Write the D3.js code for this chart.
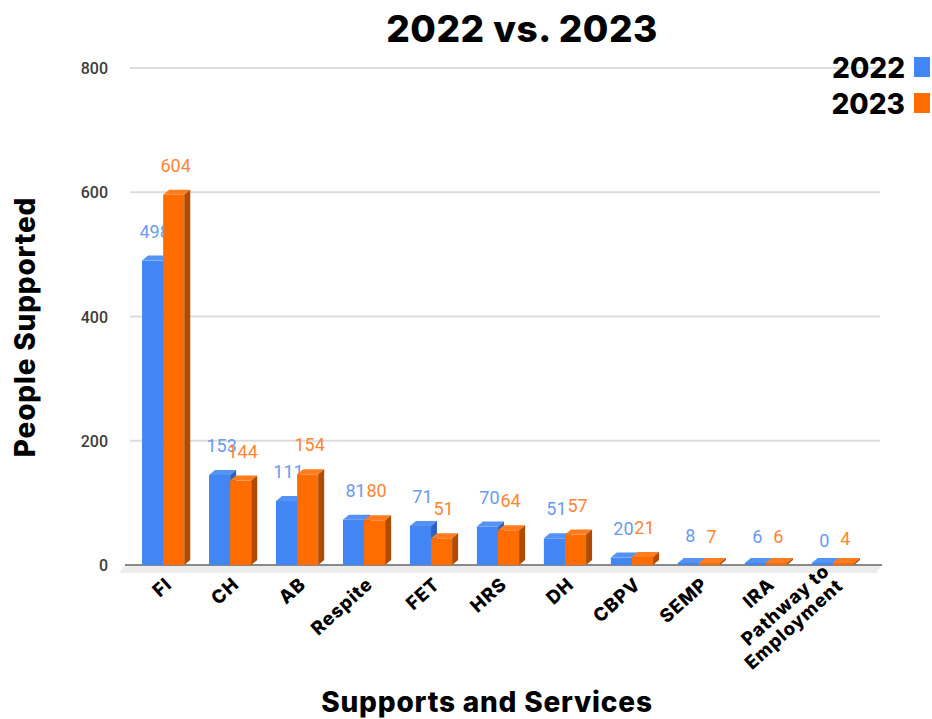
<!DOCTYPE html>
<meta charset="utf-8">
<style>
    body { margin: 0; background: #fff; }
    text { font-family: Roboto, "Noto Sans", sans-serif; }
    .bold { font-family: Inter, "DejaVu Sans", sans-serif; font-weight: 800; }
</style>
<body>
<div id="chart"></div>
<script src="https://d3js.org/d3.v7.min.js"></script>
<script>
    // chart data
    var categories = ['FI', 'CH', 'AB', 'Respite', 'FET', 'HRS', 'DH', 'CBPV', 'SEMP', 'IRA', 'Pathway to\nEmployment']
    var series = ['2022', '2023']
    var values2022 = [498, 153, 111, 81, 71, 70, 51, 20, 8, 6, 0]
    var values2023 = [604, 144, 154, 80, 51, 64, 57, 21, 7, 6, 4]
    var yTicks = [0, 200, 400, 600, 800]

    var width = 932
    var height = 719
    var depth = 6, rise = 5   // fake 3d offsets

    var colors = {
        '2022': { front: '#4285f4', top: '#5592f5', side: '#2d62c4', label: '#6a9bee' },
        '2023': { front: '#ff6d01', top: '#ff7d1f', side: '#b04b00', label: '#ff8533' }
    }

    var svg = d3.select('#chart')
        .append('svg')
        .attr('width', width)
        .attr('height', height)

    var x = d3.scaleBand()
        .domain(categories)
        .range([130, 866])
        .paddingInner(0.37)
        .paddingOuter(0.18)
    var x1 = d3.scaleBand()
        .domain(series)
        .range([0, x.bandwidth()])
    var y = d3.scaleLinear()
        .domain([0, 800])
        .range([565, 68])

    // gridlines
    svg.append('g')
        .selectAll('line')
        .data(yTicks.filter(function (d) { return d > 0 }))
        .enter().append('line')
        .attr('x1', 130).attr('x2', 880)
        .attr('y1', function (d) { return y(d) })
        .attr('y2', function (d) { return y(d) })
        .style('stroke', '#dcdcdc')
        .style('stroke-width', 2)

    // y tick labels
    svg.append('g')
        .selectAll('text')
        .data(yTicks)
        .enter().append('text')
        .attr('x', 108)
        .attr('y', function (d) { return y(d) + 6 })
        .attr('text-anchor', 'end')
        .style('font-size', '16px')
        .style('font-weight', 500)
        .style('fill', '#3c3c3c')
        .text(function (d) { return d })

    // floor shadow + base line
    svg.append('path')
        .attr('d', 'M125,' + y(0) + 'L882,' + y(0) + 'L876,' + (y(0) + 8) + 'L119,' + (y(0) + 8) + 'Z')
        .style('fill', '#ececec')
    svg.append('line')
        .attr('x1', 125).attr('x2', 882)
        .attr('y1', y(0)).attr('y2', y(0))
        .style('stroke', '#666')
        .style('stroke-width', 1.5)

    var rows = categories.map(function (c, i) {
        return { cat: c, vals: [{ s: '2022', v: values2022[i] }, { s: '2023', v: values2023[i] }] }
    })

    var w = x1.bandwidth()
    var groups = svg.append('g')
        .selectAll('g')
        .data(rows)
        .enter().append('g')
        .attr('transform', function (d) { return 'translate(' + x(d.cat) + ',0)' })

    var bars = groups.selectAll('g.bar')
        .data(function (d) { return d.vals })
        .enter().append('g')
        .attr('class', 'bar')

    function topY(d) { return Math.min(y(d.v) + rise, y(0) - 2) }

    bars.append('rect')
        .attr('x', function (d) { return x1(d.s) })
        .attr('y', topY)
        .attr('width', w)
        .attr('height', function (d) { return y(0) - topY(d) })
        .style('fill', function (d) { return colors[d.s].front })
    bars.append('path')
        .attr('d', function (d) {
            var x0 = x1(d.s), t = topY(d)
            return 'M' + x0 + ',' + t + 'L' + (x0 + depth) + ',' + (t - rise) +
                'L' + (x0 + w + depth) + ',' + (t - rise) + 'L' + (x0 + w) + ',' + t + 'Z'
        })
        .style('fill', function (d) { return colors[d.s].top })
    bars.append('path')
        .attr('d', function (d) {
            var x0 = x1(d.s) + w, t = topY(d), b = y(0)
            return 'M' + x0 + ',' + t + 'L' + (x0 + depth) + ',' + (t - rise) +
                'L' + (x0 + depth) + ',' + (b - rise) + 'L' + x0 + ',' + b + 'Z'
        })
        .style('fill', function (d) { return colors[d.s].side })

    // data labels
    bars.append('text')
        .attr('x', function (d) { return x1(d.s) + w / 2 + 2 })
        .attr('y', function (d) { return y(d.v) - 18 })
        .attr('text-anchor', 'middle')
        .style('font-size', '18px')
        .style('fill', function (d) { return colors[d.s].label })
        .text(function (d) { return d.v })

    // x category labels, rotated
    var xl = svg.append('g')
        .selectAll('text')
        .data(categories)
        .enter().append('text')
        .attr('class', 'bold')
        .attr('transform', function (d) {
            return 'translate(' + (x(d) + x.bandwidth() / 2 + 10) + ',' + (y(0) + 21) + ') rotate(-42)'
        })
        .attr('text-anchor', 'end')
        .style('font-size', '18.5px')
        .style('letter-spacing', '0.9px')
    xl.selectAll('tspan')
        .data(function (d) {
            var parts = d.split('\n')
            return parts.map(function (p, i) { return { t: p, dy: i === 0 ? -(parts.length - 1) * 18 : 20 } })
        })
        .enter().append('tspan')
        .attr('x', 0)
        .attr('dy', function (d) { return d.dy })
        .text(function (d) { return d.t })

    // titles
    svg.append('text')
        .attr('class', 'bold')
        .attr('x', 522).attr('y', 42)
        .attr('text-anchor', 'middle')
        .style('font-size', '37px')
        .style('letter-spacing', '0.5px')
        .text('2022 vs. 2023')
    svg.append('text')
        .attr('class', 'bold')
        .attr('x', 487).attr('y', 712)
        .attr('text-anchor', 'middle')
        .style('font-size', '28px')
        .style('letter-spacing', '0.8px')
        .text('Supports and Services')
    svg.append('text')
        .attr('class', 'bold')
        .attr('transform', 'translate(35,327) rotate(-90)')
        .attr('text-anchor', 'middle')
        .style('font-size', '28px')
        .style('letter-spacing', '0.8px')
        .text('People Supported')

    // legend
    var leg = svg.append('g')
        .selectAll('g')
        .data(series)
        .enter().append('g')
        .attr('transform', function (d, i) { return 'translate(0,' + (68 + i * 36) + ')' })
    leg.append('rect')
        .attr('x', 914).attr('y', -11)
        .attr('width', 16).attr('height', 20)
        .style('fill', function (d) { return colors[d].front })
    leg.append('text')
        .attr('class', 'bold')
        .attr('x', 905).attr('y', 10)
        .attr('text-anchor', 'end')
        .style('font-size', '28px')
        .text(function (d) { return d })
</script>
</body>
